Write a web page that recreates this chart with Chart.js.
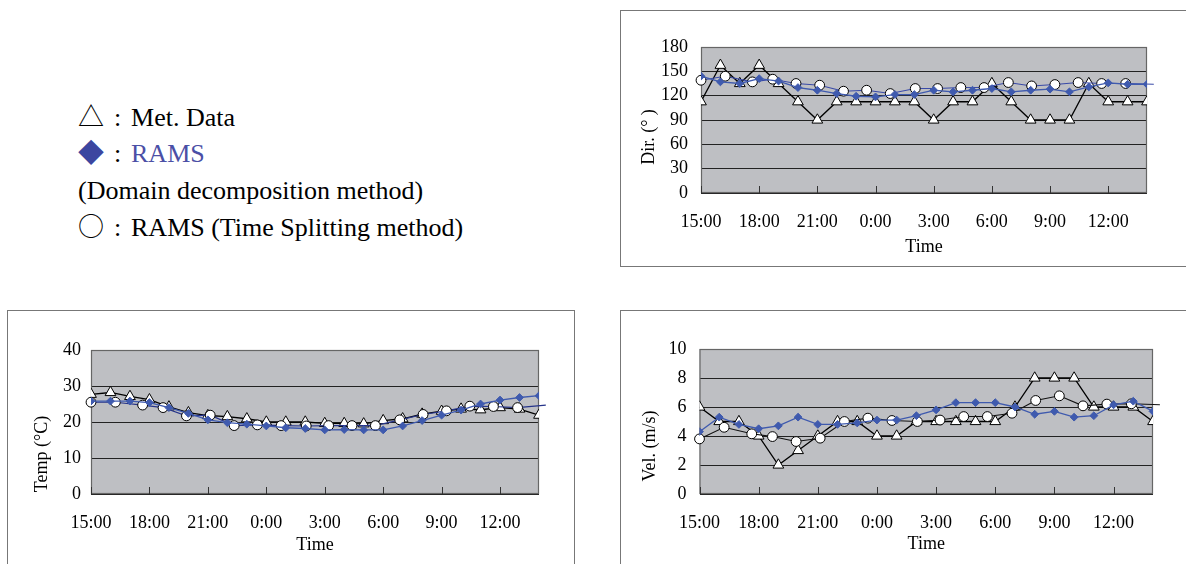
<!DOCTYPE html>
<html>
<head>
<meta charset="utf-8">
<script src="https://cdn.jsdelivr.net/npm/chart.js@4.4.0/dist/chart.umd.min.js"></script>
<style>
  body { margin: 0; width: 1186px; height: 564px; overflow: hidden; background: #fff; position: relative; font-family: "Liberation Serif", "Times New Roman", serif; }
  .box { position: absolute; border: 1.5px solid #777; box-sizing: border-box; }
  canvas { position: absolute; }
  .leg { position: absolute; left: 78px; font-size: 26px; line-height: 36px; white-space: nowrap; color: #000; }
  .sym { font-family: "Noto Sans CJK JP", sans-serif; line-height: 26px; }
  .col { display: inline-block; width: 27px; text-align: center; }
</style>
</head>
<body>

<div class="box" style="left:620px; top:10px; width:620px; height:257px;"></div>
<div class="box" style="left:7px; top:310px; width:568px; height:300px;"></div>
<div class="box" style="left:620px; top:310px; width:620px; height:300px;"></div>

<div class="leg" style="top:100px;"><span class="sym">△</span><span class="col">:</span>Met. Data</div>
<div class="leg" style="top:136px;"><span class="sym" style="color:#3c46a0;">◆</span><span class="col">:</span><span style="color:#4b4fa6;">RAMS</span></div>
<div class="leg" style="top:173px;">(Domain decomposition method)</div>
<div class="leg" style="top:210px;"><span class="sym">○</span><span class="col">:</span>RAMS (Time Splitting method)</div>

<canvas id="dir" width="565" height="256" style="left:621px; top:11px;"></canvas>
<canvas id="temp" width="566" height="253" style="left:8px; top:311px;"></canvas>
<canvas id="vel" width="565" height="253" style="left:621px; top:311px;"></canvas>

<script>
// hours after 15:00, hourly observations and RAMS output
const hours = [0, 1, 2, 3, 4, 5, 6, 7, 8, 9, 10, 11, 12, 13, 14, 15, 16, 17, 18, 19, 20, 21, 22, 23];
const timeLabels = ['15:00', '18:00', '21:00', '0:00', '3:00', '6:00', '9:00', '12:00'];
// time splitting output is on its own time steps (last one has no marker)
const tsHours = [0, 1.25, 2.65, 3.7, 4.9, 6.12, 7.35, 8.54, 9.76, 11.05, 12.2, 13.4, 14.6, 15.85, 17.05, 18.25, 19.45, 20.66, 21.9, 23.35];

const metDir = [112.5, 157.5, 135, 157.5, 135, 112.5, 90, 112.5, 112.5, 112.5, 112.5, 112.5, 90, 112.5, 112.5, 135, 112.5, 90, 90, 90, 135, 112.5, 112.5, 112.5];
const ramsDir = [144, 137, 135, 141, 138, 130, 126.7, 122.6, 119.3, 118.5, 121.4, 121.4, 126.7, 124.7, 126.7, 128.8, 124.7, 126.7, 128, 124.7, 130.8, 135.7, 134.1, 134.1];
const tsDir = [139, 144, 137, 140.3, 135, 132.9, 125.5, 126.7, 122.6, 128.8, 128.8, 130, 130, 136.2, 132, 133.7, 136.2, 135, 135, 134];

const metTemp = [27.7, 28.2, 27.1, 26.2, 24.2, 22.6, 21.8, 21.5, 20.9, 20.0, 20.0, 20.0, 19.6, 19.6, 19.5, 20.4, 20.9, 22.2, 23.0, 23.6, 23.4, 24.0, 23.6, 21.9];
const ramsTemp = [25.8, 25.8, 25.8, 25.4, 24.0, 22.4, 20.6, 19.8, 19.4, 18.9, 18.4, 18.2, 17.8, 17.9, 17.8, 17.8, 18.9, 20.4, 21.9, 23.3, 25.0, 26.1, 26.8, 27.3];
const tsTemp = [25.5, 25.5, 24.7, 24.0, 21.7, 21.9, 19.0, 19.2, 19.0, 18.9, 19.0, 19.0, 19.0, 20.6, 22.1, 23.1, 24.4, 24.3, 24.0, 24.7];

const metVel = [6, 5, 5, 4, 2, 3, 4, 5, 5, 4, 4, 5, 5, 5, 5, 5, 6, 8, 8, 8, 6, 6, 6, 5];
const ramsVel = [4.3, 5.3, 4.8, 4.5, 4.7, 5.3, 4.8, 4.8, 4.9, 5.1, 5.1, 5.4, 5.8, 6.3, 6.3, 6.3, 6.0, 5.5, 5.7, 5.3, 5.4, 6.15, 6.4, 5.7];
const tsVel = [3.8, 4.6, 4.15, 3.96, 3.62, 3.85, 5.0, 5.23, 5.07, 5.0, 5.1, 5.34, 5.34, 5.57, 6.45, 6.77, 6.08, 6.2, 6.22, 6.15];

const FONT = '"Liberation Serif", "Times New Roman", serif';
const BLUE = '#3f5aae';

// gray plot area, frame, inside tick marks and the y title
const framePlugin = {
  id: 'frame',
  beforeDraw(chart) {
    const { ctx, chartArea: a } = chart;
    ctx.save();
    ctx.fillStyle = '#bebfc3';
    ctx.fillRect(a.left, a.top, a.right - a.left, a.bottom - a.top);
    ctx.restore();
  },
  beforeDatasetsDraw(chart, args, opts) {
    const { ctx, chartArea: a } = chart;
    const x = chart.scales.x;
    ctx.save();
    ctx.strokeStyle = '#666';
    ctx.lineWidth = 1.2;
    ctx.strokeRect(a.left + 0.5, a.top + 0.5, a.right - a.left - 1, a.bottom - a.top - 1);
    ctx.beginPath();
    ctx.strokeStyle = '#333';
    ctx.lineWidth = 1;
    x.ticks.forEach(t => {
      const px = Math.round(x.getPixelForValue(t.value)) + 0.5;
      ctx.moveTo(px, a.bottom);
      ctx.lineTo(px, a.bottom - 7);
    });
    ctx.stroke();
    ctx.translate(opts.tx, opts.ty);
    ctx.rotate(-Math.PI / 2);
    ctx.font = '18px ' + FONT;
    ctx.fillStyle = '#000';
    ctx.textAlign = 'center';
    ctx.textBaseline = 'middle';
    ctx.fillText(opts.text, 0, 0);
    ctx.restore();
  }
};

const pts = (xs, ys) => ys.map((y, i) => ({ x: xs[i], y: y }));

function series(met, rams, ts, tsColor) {
  return [
    {
      label: 'RAMS', data: pts(hours, rams), order: 0,
      borderColor: BLUE, backgroundColor: BLUE, borderWidth: 1.3,
      pointStyle: 'rectRot', pointRadius: 3.9, pointBorderWidth: 1
    },
    {
      label: 'RAMS (Time Splitting method)', data: pts(tsHours, ts), order: 1, clip: 12,
      borderColor: tsColor, borderWidth: 1.1,
      pointStyle: 'circle', pointRadius: ts.map((v, i) => i === ts.length - 1 ? 0 : 4.9),
      pointBackgroundColor: '#fff', pointBorderColor: '#000', pointBorderWidth: 1
    },
    {
      label: 'Met. Data', data: pts(hours, met), order: 2,
      borderColor: '#000', borderWidth: 1.3,
      pointStyle: 'triangle', pointRadius: 6.2,
      pointBackgroundColor: '#fff', pointBorderColor: '#000', pointBorderWidth: 1
    }
  ];
}

function makeChart(id, datasets, c) {
  new Chart(document.getElementById(id), {
    type: 'line',
    data: { datasets: datasets },
    options: {
      responsive: false,
      animation: false,
      layout: { padding: { left: 0, top: c.top, right: c.right, bottom: 0 } },
      plugins: {
        legend: { display: false },
        tooltip: { enabled: false },
        frame: { text: c.title, tx: c.tx, ty: c.ty }
      },
      scales: {
        x: {
          type: 'linear', min: 0, max: 23,
          afterFit: s => { s.height = c.xh; },
          grid: { display: false },
          border: { display: false },
          ticks: {
            stepSize: 3, includeBounds: false, padding: 10, maxRotation: 0, autoSkip: false,
            color: '#000', font: { family: FONT, size: 18 },
            callback: v => timeLabels[v / 3]
          },
          title: { display: true, text: 'Time', color: '#000', font: { family: FONT, size: 18 }, padding: { top: 0, bottom: c.tb } }
        },
        y: {
          min: 0, max: c.max,
          afterFit: s => { s.width = c.yw; },
          grid: { color: '#222', lineWidth: 1, drawTicks: false },
          border: { display: false },
          ticks: { stepSize: c.step, autoSkip: false, padding: c.yp, color: '#000', font: { family: FONT, size: 18 } }
        }
      }
    },
    plugins: [framePlugin]
  });
}

makeChart('dir', series(metDir, ramsDir, tsDir, '#3a4aa8'),
  { top: 36, right: 39, xh: 74, yw: 80, max: 180, step: 30, yp: 13, tb: 9, title: 'Dir. (° )', tx: 28, ty: 126 });
makeChart('temp', series(metTemp, ramsTemp, tsTemp, '#26348a'),
  { top: 39, right: 35, xh: 70, yw: 83, max: 40, step: 10, yp: 10, tb: 8, title: 'Temp (°C)', tx: 34, ty: 143 });
makeChart('vel', series(metVel, ramsVel, tsVel, '#111'),
  { top: 38, right: 33, xh: 70, yw: 78.5, max: 10, step: 2, yp: 13, tb: 9, title: 'Vel. (m/s)', tx: 29, ty: 135 });
</script>
</body>
</html>
